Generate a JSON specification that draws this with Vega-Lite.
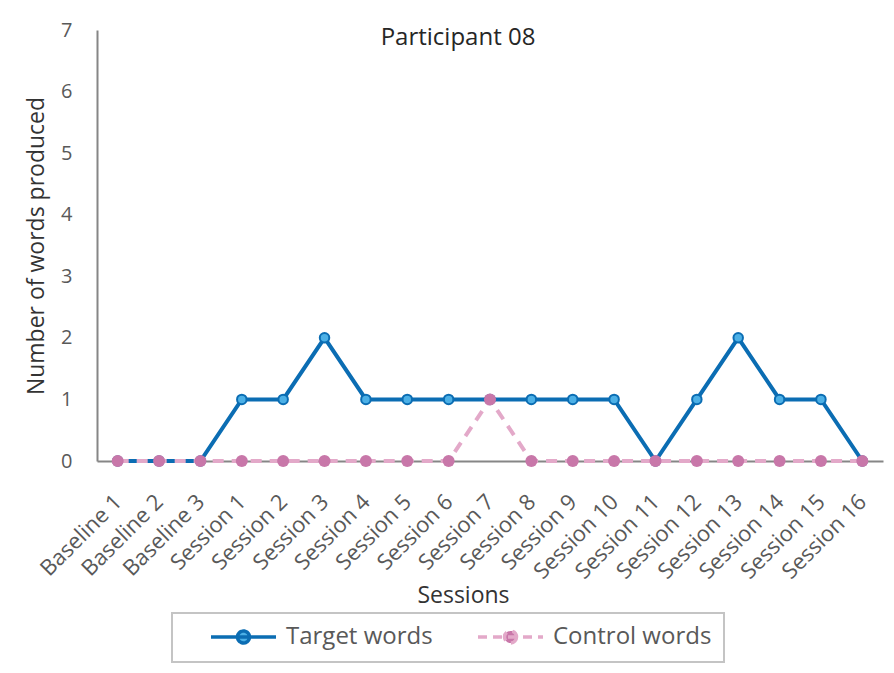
{
  "$schema": "https://vega.github.io/schema/vega-lite/v6.json",
  "width": 786,
  "height": 431,
  "autosize": {"type": "none"},
  "padding": {"left": 97, "top": 30, "right": 11, "bottom": 212},
  "background": "white",
  "title": {"text": "Participant 08", "orient": "top", "anchor": "middle", "offset": -30, "dx": -32, "fontSize": 24, "font": "Open Sans", "fontWeight": "normal", "color": "#262626"},
  "data": {"values": [
    {"session": "Baseline 1", "series": "Target words", "words": 0},
    {"session": "Baseline 2", "series": "Target words", "words": 0},
    {"session": "Baseline 3", "series": "Target words", "words": 0},
    {"session": "Session 1", "series": "Target words", "words": 1},
    {"session": "Session 2", "series": "Target words", "words": 1},
    {"session": "Session 3", "series": "Target words", "words": 2},
    {"session": "Session 4", "series": "Target words", "words": 1},
    {"session": "Session 5", "series": "Target words", "words": 1},
    {"session": "Session 6", "series": "Target words", "words": 1},
    {"session": "Session 7", "series": "Target words", "words": 1},
    {"session": "Session 8", "series": "Target words", "words": 1},
    {"session": "Session 9", "series": "Target words", "words": 1},
    {"session": "Session 10", "series": "Target words", "words": 1},
    {"session": "Session 11", "series": "Target words", "words": 0},
    {"session": "Session 12", "series": "Target words", "words": 1},
    {"session": "Session 13", "series": "Target words", "words": 2},
    {"session": "Session 14", "series": "Target words", "words": 1},
    {"session": "Session 15", "series": "Target words", "words": 1},
    {"session": "Session 16", "series": "Target words", "words": 0},
    {"session": "Baseline 1", "series": "Control words", "words": 0},
    {"session": "Baseline 2", "series": "Control words", "words": 0},
    {"session": "Baseline 3", "series": "Control words", "words": 0},
    {"session": "Session 1", "series": "Control words", "words": 0},
    {"session": "Session 2", "series": "Control words", "words": 0},
    {"session": "Session 3", "series": "Control words", "words": 0},
    {"session": "Session 4", "series": "Control words", "words": 0},
    {"session": "Session 5", "series": "Control words", "words": 0},
    {"session": "Session 6", "series": "Control words", "words": 0},
    {"session": "Session 7", "series": "Control words", "words": 1},
    {"session": "Session 8", "series": "Control words", "words": 0},
    {"session": "Session 9", "series": "Control words", "words": 0},
    {"session": "Session 10", "series": "Control words", "words": 0},
    {"session": "Session 11", "series": "Control words", "words": 0},
    {"session": "Session 12", "series": "Control words", "words": 0},
    {"session": "Session 13", "series": "Control words", "words": 0},
    {"session": "Session 14", "series": "Control words", "words": 0},
    {"session": "Session 15", "series": "Control words", "words": 0},
    {"session": "Session 16", "series": "Control words", "words": 0}
  ]},
  "encoding": {
    "x": {"field": "session", "type": "ordinal", "sort": null, "scale": {"type": "point", "padding": 0.5},
      "axis": {"title": "Sessions", "labelAngle": -45, "labelAlign": "right", "labelBaseline": "middle", "labelFontSize": 22, "labelFont": "Open Sans", "labelColor": "#595959", "labelPadding": 37, "ticks": false, "domainColor": "#868686", "domainWidth": 2, "grid": false, "titleFontSize": 23, "titleFont": "Open Sans", "titleFontWeight": "normal", "titleColor": "#333333", "titleX": 366, "titleY": 134, "titleBaseline": "middle", "labelOverlap": false}},
    "y": {"field": "words", "type": "quantitative", "scale": {"domain": [0, 7], "nice": false},
      "axis": {"title": "Number of words produced", "values": [0, 1, 2, 3, 4, 5, 6, 7], "labelFontSize": 20, "labelFont": "Open Sans", "labelColor": "#595959", "labelPadding": 25, "ticks": false, "domainColor": "#868686", "domainWidth": 2, "grid": false, "titleFontSize": 23, "titleFont": "Open Sans", "titleFontWeight": "normal", "titleColor": "#333333", "titlePadding": 12}}
  },
  "layer": [
    {"transform": [{"filter": "datum.series === 'Target words'"}],
     "mark": {"type": "line", "strokeWidth": 4},
     "encoding": {"color": {"field": "series", "type": "nominal",
        "scale": {"domain": ["Target words", "Control words"], "range": ["#0b6db3", "#e3a9c9"]},
        "legend": {"orient": "none", "legendX": 75, "legendY": 583, "direction": "horizontal", "title": null,
          "strokeColor": "#c4c4c4", "padding": 12, "labelFontSize": 24, "labelFont": "Open Sans", "labelColor": "#595959",
          "labelExpr": "datum.label === 'Control words' ? datum.label + '\u00a0\u00a0\u00a0\u00a0\u00a0' : datum.label",
          "symbolType": "M -3.25 0 L 3.25 0 M 0.6 0 A 0.6 0.6 0 1 1 -0.6 0 A 0.6 0.6 0 1 1 0.6 0 Z",
          "symbolSize": 400, "symbolStrokeWidth": 3.5, "symbolOffset": 47.5, "labelOffset": 30.5, "columnPadding": 18,
          "encode": {
            "legend": {"update": {"strokeWidth": {"value": 2}}},
            "symbols": {"update": {
              "fill": {"signal": "datum.value === 'Target words' ? '#4cb0e6' : '#c877a9'"},
              "fillOpacity": {"value": 1},
              "strokeDash": {"signal": "datum.value === 'Control words' ? [9, 6] : [1, 0]"}}}}}}}},
    {"transform": [{"filter": "datum.series === 'Target words'"}],
     "mark": {"type": "point", "shape": "circle", "filled": true, "fill": "#4cb0e6", "stroke": "#0b6db3", "strokeWidth": 2, "size": 90, "opacity": 1}},
    {"transform": [{"filter": "datum.series === 'Control words'"}],
     "mark": {"type": "line", "strokeWidth": 4, "strokeDash": [11, 8]},
     "encoding": {"color": {"field": "series", "type": "nominal"}}},
    {"transform": [{"filter": "datum.series === 'Control words'"}],
     "mark": {"type": "point", "shape": "circle", "filled": true, "fill": "#c877a9", "strokeWidth": 0, "size": 145, "opacity": 1}}
  ],
  "config": {"view": {"stroke": null}}
}
